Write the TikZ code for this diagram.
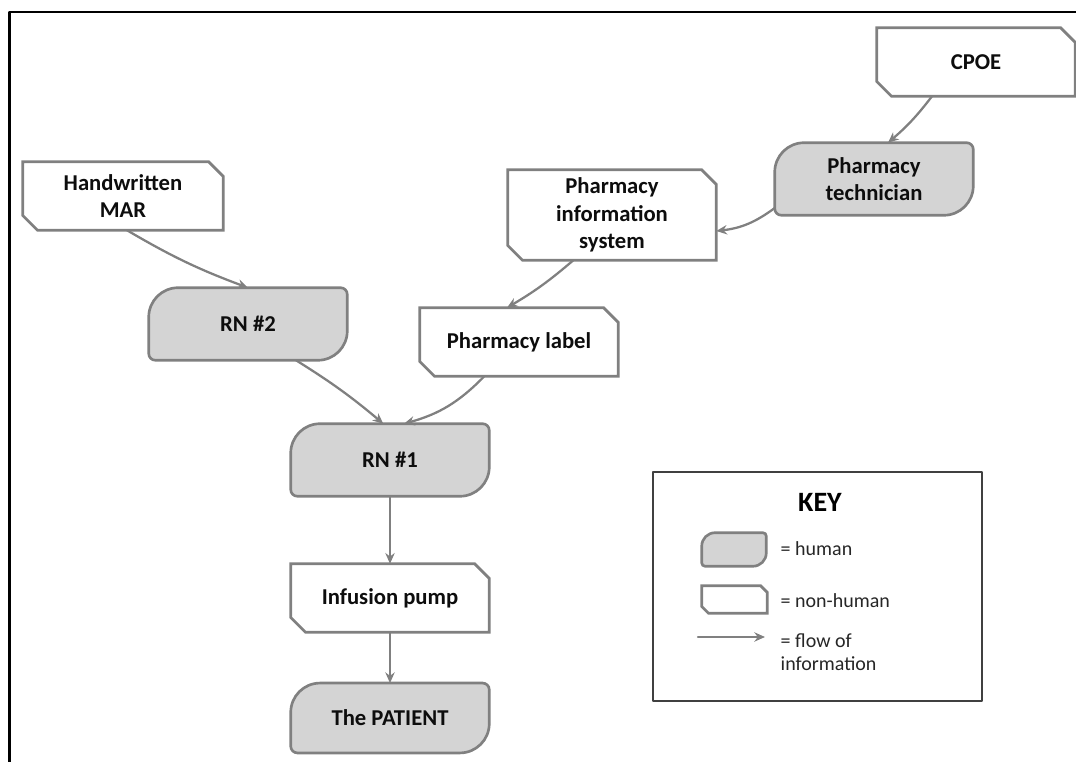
\documentclass[tikz,border=0pt]{standalone}
\usepackage{fontspec}
\setmainfont{Carlito}
\usetikzlibrary{arrows.meta,backgrounds}

\definecolor{edgegray}{RGB}{128,128,128}
\definecolor{humanfill}{RGB}{212,212,212}
\definecolor{keyframe}{RGB}{64,64,64}

\tikzset{
	box/.style={inner sep=0pt, align=center, text=black!95},
	human/.style={box, minimum width=148.5pt, minimum height=54pt},
	machine/.style={box, minimum width=148.5pt, minimum height=51pt},
	humanline/.style={draw=edgegray, fill=humanfill, line width=2pt},
	machineline/.style={draw=edgegray, fill=white, line width=2pt},
	flow/.style={->, draw=edgegray, line width=1.7pt},
	keytext/.style={anchor=west, align=left, font=\fontsize{15}{17.5}\selectfont\mdseries, text=black!85}
}

\begin{document}
\begin{tikzpicture}[x=0.75pt,y=0.75pt,>={Stealth[length=8pt,width=7pt]}, font=\fontsize{17}{20.5}\selectfont\bfseries, line join=round, line cap=round]
	\useasboundingbox (0,0) rectangle (1076,-762);
	\draw[line width=1.6pt] (9.5,-762) -- (9.5,-12) -- (1076,-12);

	% people and systems
	\node[machine] (cpoe) at (976,-62) {CPOE};
	\node[human] (tech) at (874,-179) {Pharmacy\\technician};
	\node[machine, minimum width=150pt] (mar) at (123,-196) {Handwritten\\MAR};
	\node[machine, minimum width=156pt, minimum height=67.5pt] (pis) at (612,-215) {Pharmacy\\information\\system};
	\node[human] (rn2) at (248,-324) {RN \#2};
	\node[machine] (label) at (519,-342) {Pharmacy label};
	\node[human] (rn1) at (390,-460) {RN \#1};
	\node[machine] (pump) at (390,-598) {Infusion pump};
	\node[human, minimum height=52pt] (patient) at (390,-718) {The PATIENT};

	% key
	\node[draw=keyframe, line width=1.5pt, minimum width=246.75pt, minimum height=171.75pt] (keybox) at (817.5,-587) {};
	\node[font=\fontsize{21}{25}\selectfont\bfseries] (keytitle) at (820,-502) {KEY};
	\node[box, minimum width=48pt, minimum height=24.75pt] (keyhuman) at (734,-549.5) {};
	\node[box, minimum width=48.75pt, minimum height=20.25pt] (keymachine) at (734.5,-599.5) {};
	\coordinate (keyfrom) at (698,-637);
	\coordinate (keyto) at (765,-637);
	\node[keytext] (keyhumantext) at (776,-549) {= human};
	\node[keytext] (keymachinetext) at (776,-601) {= non-human};
	\node[keytext] (keyflowtext) at (776,-652) {= flow of\\information};

	% flow of information
	\draw[flow] ([xshift=-33pt]cpoe.south) to[bend left=6] ([xshift=10.5pt]tech.north);
	\draw[flow] ([yshift=-21.75pt]tech.west) to[bend left=15] ([yshift=-12pt]pis.east);
	\draw[flow] ([xshift=-29pt]pis.south) to[bend left=5] ([xshift=-9pt]label.north);
	\draw[flow] ([xshift=3pt]mar.south) to[bend right=5] (rn2.north);
	\draw[flow] ([xshift=36pt]rn2.south) to[bend left=4] ([xshift=-5pt]rn1.north);
	\draw[flow] ([xshift=-26pt]label.south) to[bend left=15] ([xshift=10.5pt]rn1.north);
	\draw[flow] (rn1) -- (pump);
	\draw[flow] (pump) -- (patient);
	\draw[flow] (keyfrom) -- (keyto);

	\begin{scope}[on background layer]
		\foreach \n/\rb/\rs in {tech/22pt/5pt, rn2/22pt/5pt, rn1/22pt/5pt, patient/22pt/5pt, keyhuman/10pt/2.5pt}
		\draw[humanline] (\n.south) [rounded corners=\rs] -- (\n.south west) [rounded corners=\rb] -- (\n.north west) [rounded corners=\rs] -- (\n.north east) [rounded corners=\rb] -- (\n.south east) -- cycle;
		\foreach \n/\c in {cpoe/11pt, mar/11pt, pis/11pt, label/11pt, pump/11pt, keymachine/5pt}
		\draw[machineline] (\n.north west) -- ([xshift=-\c]\n.north east) -- ([yshift=-\c]\n.north east) -- (\n.south east) -- ([xshift=\c]\n.south west) -- ([yshift=\c]\n.south west) -- cycle;
	\end{scope}
\end{tikzpicture}
\end{document}
